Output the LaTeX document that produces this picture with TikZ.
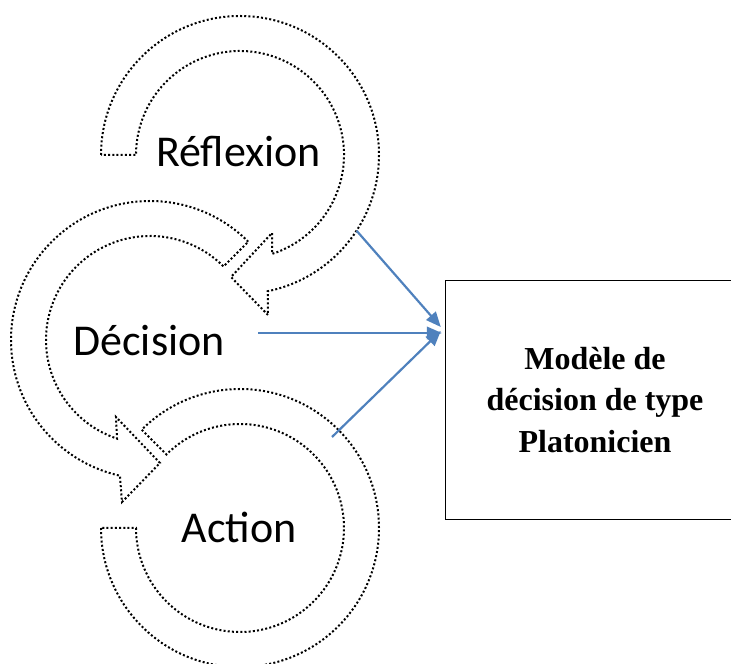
\documentclass[tikz,border=0pt]{standalone}
\usepackage{fontspec}
\setmainfont{Liberation Serif}
\newfontfamily\labelfont{Carlito}
\usepackage{xcolor}
\usetikzlibrary{arrows.meta,calc,positioning}
\definecolor{wordblue}{RGB}{79,129,189}

\begin{document}
\begin{tikzpicture}[x=1pt, y=1pt,
	loop/.style = {draw=black, line width=2pt,
	dash pattern=on 2pt off 2.2pt, line join=miter},
	stage/.style = {font=\labelfont\fontsize{44}{50}\selectfont,
	anchor=base, inner sep=0pt},
	link/.style = {draw=wordblue, line width=2.2pt,
	-{Triangle[length=15pt,width=12.5pt]}},
	model/.style = {align=center,
	minimum width=298pt, minimum height=238pt,
	font=\bfseries\fontsize{32}{41.5}\selectfont}
]
\useasboundingbox (0,0) rectangle (731,664);
\clip (0,0) rectangle (731,664);

% centres of the three loops
\coordinate (cR) at (240,509);
\coordinate (cD) at (150,324);
\coordinate (cA) at (240,136);

% Reflexion loop
\draw[loop] ($(cR)+(180:139)$) arc[start angle=180, end angle=-78.5, radius=139]
	-- ($(cR)+(28,-160)$) -- ($(cR)+(-9,-122)$) -- ($(cR)+(32,-78)$)
	-- ($(cR)+(-72:104)$) arc[start angle=-72, end angle=180, radius=104] -- cycle;
% Decision loop
\draw[loop] ($(cD)+(45:139)$) arc[start angle=45, end angle=257.5, radius=139]
	-- ($(cD)+(-28,-162)$) -- ($(cD)+(10,-123)$) -- ($(cD)+(-34,-77)$)
	-- ($(cD)+(251.5:104)$) arc[start angle=251.5, end angle=45, radius=104] -- cycle;
% Action loop
\draw[loop] ($(cA)+(180:139)$) arc[start angle=180, end angle=495, radius=139]
	-- ($(cA)+(135:104)$) arc[start angle=135, end angle=-180, radius=104] -- cycle;

\node[stage] (reflexion) at (238.5,497) {Réflexion};
\node[stage] (decision) at (149,308) {Décision};
\node[stage] (action) at (239,121) {Action};

\node[model] (modele) at (595,264) {Modèle de\\décision de type\\Platonicien};
% the frame runs past the right edge of the page
\draw[line width=1.1pt] ($(modele.south east)+(40,0)$) -- (modele.south west)
	-- (modele.north west) -- ($(modele.north east)+(40,0)$);

\coordinate (fromR) at ($(cR)+(-33:139)$);
\coordinate (fromD) at (258,331);
\coordinate (fromA) at (332,227);
\coordinate (toR) at ($(modele.west)+(-5,73)$);
\coordinate (toD) at ($(modele.west)+(-4,67)$);
\coordinate (toA) at ($(modele.west)+(-5,69)$);

\draw[link] (fromR) -- (toR);
\draw[link] (fromD) -- (toD);
\draw[link] (fromA) -- (toA);
\end{tikzpicture}
\end{document}
